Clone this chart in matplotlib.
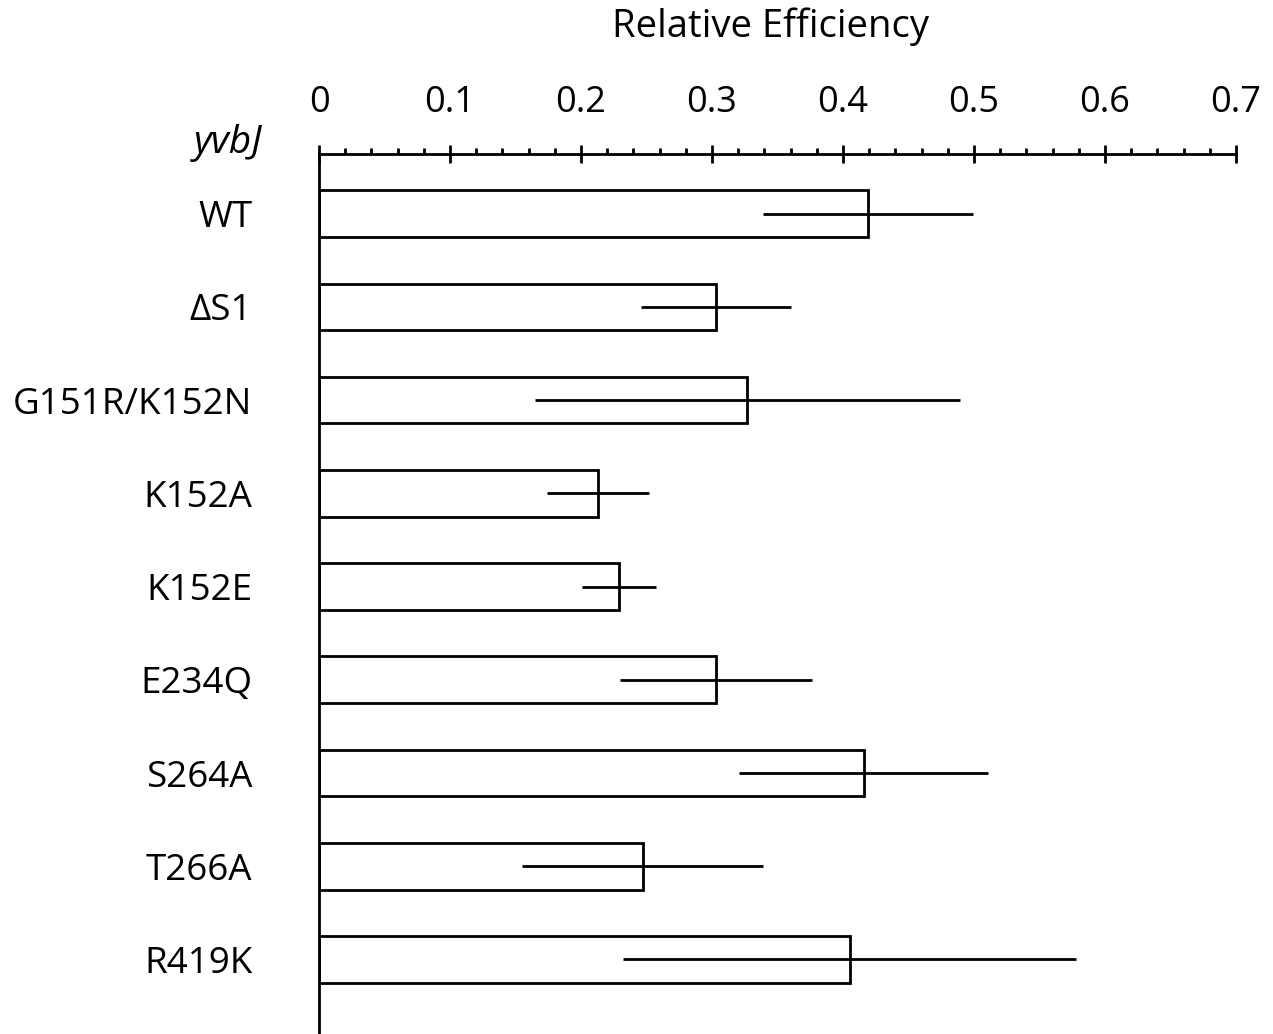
import matplotlib.pyplot as plt
from matplotlib.ticker import MultipleLocator

plt.rcParams['font.family'] = ['Open Sans', 'DejaVu Sans']

# data
strains = ["WT", "\u0394S1", "G151R/K152N", "K152A", "K152E", "E234Q", "S264A", "T266A", "R419K"]
efficiency = [0.419, 0.303, 0.327, 0.213, 0.229, 0.303, 0.416, 0.247, 0.405]
err = [0.080, 0.057, 0.162, 0.039, 0.028, 0.073, 0.095, 0.092, 0.173]

fig = plt.figure(figsize=(12.73, 10.34), dpi=100)
ax = fig.add_axes([0.2506, 0.0, 0.7203, 0.851])

ypos = list(range(len(strains)))
ax.barh(ypos, efficiency, height=0.5, color="white", edgecolor="black", linewidth=2)
ax.errorbar(efficiency, ypos, xerr=err, fmt="none", ecolor="black", elinewidth=2, capsize=0)

ax.set_xlim(0, 0.7)
ax.set_ylim(8.8, -0.64)

ax.xaxis.tick_top()
ax.xaxis.set_major_locator(MultipleLocator(0.1))
ax.xaxis.set_minor_locator(MultipleLocator(0.02))
ax.set_xticks([0, 0.1, 0.2, 0.3, 0.4, 0.5, 0.6, 0.7])
ax.set_xticklabels(["0", "0.1", "0.2", "0.3", "0.4", "0.5", "0.6", "0.7"], fontsize=26)
ax.tick_params(axis="x", which="major", direction="inout", length=13, width=2, pad=17)
ax.tick_params(axis="x", which="minor", direction="out", length=4, width=2)

ax.set_yticks(ypos)
ax.set_yticklabels(strains, fontsize=26.5)
ax.tick_params(axis="y", length=0, pad=48)

for s in ["right", "bottom"]:
    ax.spines[s].set_visible(False)
ax.spines["top"].set_linewidth(2)
ax.spines["left"].set_linewidth(2)

fig.text(770 / 1273, 1 - 27 / 1034, "Relative Efficiency", fontsize=27.5, ha="center", va="center")
fig.text(262 / 1273, 1 - 143 / 1034, "yvbJ", fontsize=28, style="italic", ha="right", va="center")

fig.savefig("out.png", dpi=100)
